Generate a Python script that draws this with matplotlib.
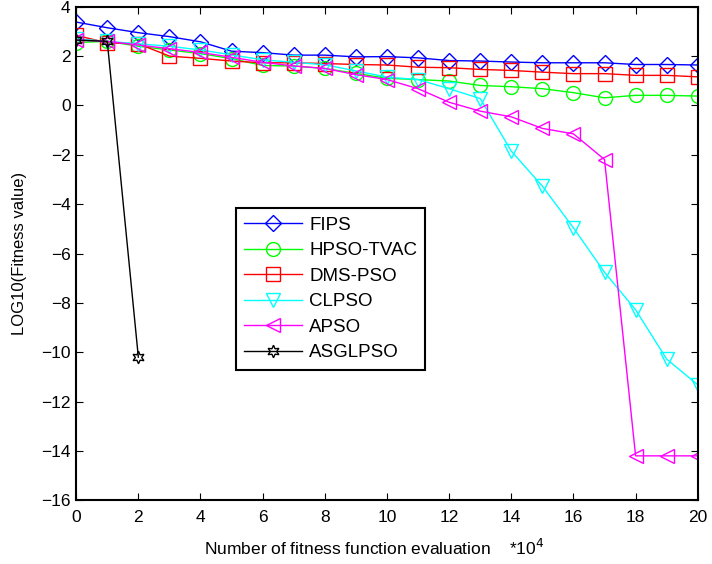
import numpy as np
import matplotlib.pyplot as plt

plt.rcParams['font.family'] = ['Liberation Sans', 'DejaVu Sans']

x = np.arange(0, 21)

fips = [3.38, 3.15, 2.95, 2.79, 2.58, 2.2, 2.14, 2.04, 2.04, 1.97, 1.98,
        1.93, 1.82, 1.8, 1.76, 1.73, 1.73, 1.73, 1.66, 1.66, 1.64]
hpso = [2.55, 2.6, 2.4, 2.25, 2.1, 1.9, 1.62, 1.6, 1.5, 1.3, 1.1,
        1.05, 0.99, 0.81, 0.76, 0.68, 0.52, 0.31, 0.41, 0.41, 0.38]
dms = [2.84, 2.54, 2.5, 2.0, 1.91, 1.8, 1.73, 1.73, 1.7, 1.66, 1.64,
       1.55, 1.53, 1.46, 1.42, 1.35, 1.29, 1.29, 1.22, 1.22, 1.16]
clpso = [2.7, 2.6, 2.5, 2.4, 2.25, 2.05, 1.85, 1.75, 1.65, 1.4, 1.15,
         1.05, 0.68, 0.28, -1.85, -3.27, -4.96, -6.76, -8.28, -10.28, -11.32]
apso = [2.65, 2.6, 2.45, 2.3, 2.15, 1.95, 1.75, 1.6, 1.5, 1.25, 1.05,
        0.68, 0.13, -0.23, -0.46, -0.93, -1.15, -2.19, -14.2, -14.2, -14.2]
asgl_x = [0, 1, 2]
asgl = [2.65, 2.6, -10.2]

fig = plt.figure(figsize=(7.12, 5.64), dpi=100)
ax = fig.add_axes([0.107, 0.113, 0.873, 0.875])

kw = dict(lw=1, mfc='none', mew=1)
ax.plot(x, fips, color='#0000ff', marker='D', ms=8, label='FIPS', **kw)
ax.plot(x, hpso, color='#00ff00', marker='o', ms=10, label='HPSO-TVAC', **kw)
ax.plot(x, dms, color='#ff0000', marker='s', ms=10, label='DMS-PSO', **kw)
ax.plot(x, clpso, color='#00ffff', marker='v', ms=10, label='CLPSO', **kw)
ax.plot(x, apso, color='#ff00ff', marker='<', ms=10, label='APSO', **kw)
ax.plot(asgl_x, asgl, color='black', marker=(6, 1, 0), ms=9, label='ASGLPSO', **kw)

ax.set_xlim(0, 20)
ax.set_ylim(-16, 4)
ax.set_xticks(np.arange(0, 21, 2))
ax.set_yticks(np.arange(-16, 5, 2))
ax.tick_params(direction='in', top=True, right=True, labelsize=12.5, length=5)
ax.tick_params(axis='x', pad=7)
ax.tick_params(axis='y', pad=4)
for s in ax.spines.values():
    s.set_linewidth(1.5)

ax.set_xlabel('Number of fitness function evaluation    *10$^4$', fontsize=12.5)
ax.xaxis.set_label_coords(0.48, -0.077)
ax.set_ylabel('LOG10(Fitness value)', fontsize=12, labelpad=10)

leg = ax.legend(loc='upper left', bbox_to_anchor=(0.257, 0.592), fontsize=13.5,
                fancybox=False, edgecolor='black', framealpha=1,
                handlelength=3.1, handletextpad=0.35, labelspacing=0.45,
                borderpad=0.45, borderaxespad=0)
leg.get_frame().set_linewidth(1.5)

fig.savefig('out.png', dpi=100)
